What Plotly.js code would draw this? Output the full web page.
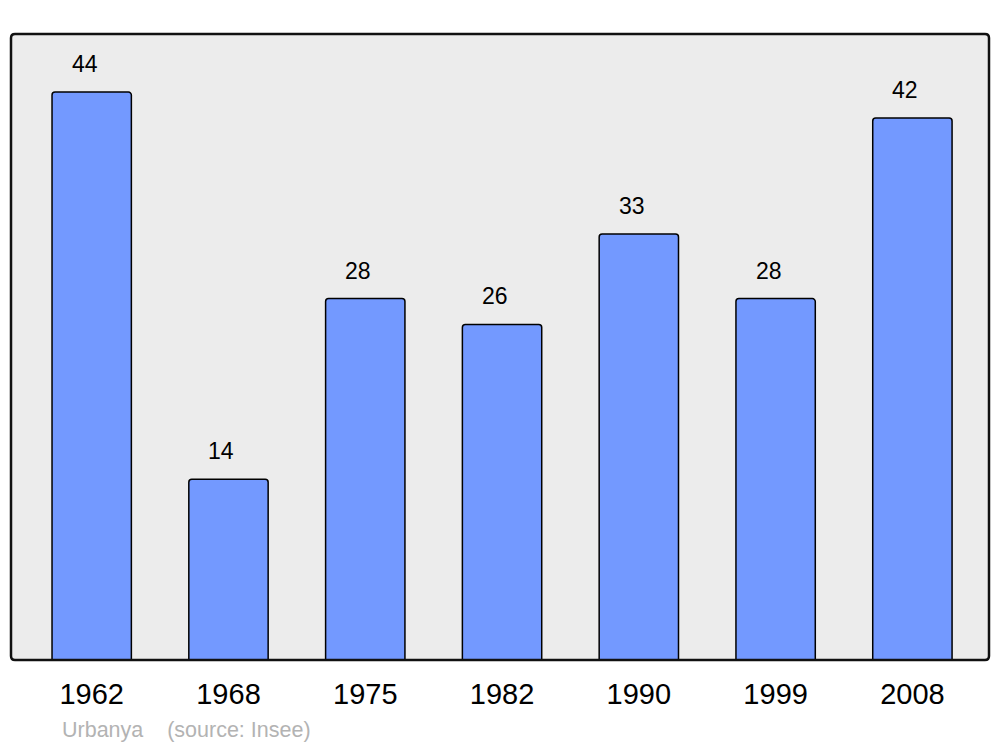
<!DOCTYPE html>
<html>
<head>
<meta charset="utf-8">
<script src="https://cdn.plot.ly/plotly-3.0.1.min.js"></script>
<style>html,body{margin:0;padding:0;background:#fff;}#chart{width:1000px;height:747px;}</style>
</head>
<body>
<div id="chart"></div>
<script>
const years = ["1962", "1968", "1975", "1982", "1990", "1999", "2008"];
const population = [44, 14, 28, 26, 33, 28, 42];
const sourceText = "Urbanya\u00a0\u00a0\u00a0\u00a0(source: Insee)";

const W = 1000, H = 747;
const m = {l: 11, r: 11, t: 34, b: 87};
const pw = W - m.l - m.r, ph = H - m.t - m.b;
const rx = 4 / pw, ry = 4 / ph;
function roundRect() {
  return `M ${rx},0 L ${1 - rx},0 Q 1,0 1,${ry} L 1,${1 - ry} Q 1,1 ${1 - rx},1 L ${rx},1 Q 0,1 0,${1 - ry} L 0,${ry} Q 0,0 ${rx},0 Z`;
}

const trace = {
  type: 'bar',
  x: years,
  y: population,
  width: 0.58,
  marker: {color: '#7399ff', line: {color: '#000', width: 1.5}, cornerradius: 3},
  hoverinfo: 'skip'
};

const labels = years.map((yr, i) => ({
  x: i, y: population[i], xref: 'x', yref: 'y',
  text: String(population[i]), showarrow: false,
  yanchor: 'bottom', xshift: -7, yshift: 13,
  font: {family: 'Liberation Sans, Arial, sans-serif', size: 23, color: '#000'}
}));

labels.push({
  xref: 'paper', yref: 'paper', x: 49 / pw, y: -(730 - m.t - ph) / ph,
  xanchor: 'left', yanchor: 'middle', showarrow: false,
  text: sourceText,
  font: {family: 'Liberation Sans, Arial, sans-serif', size: 21.5, color: '#b3b3b3'}
});

const layout = {
  width: W, height: H,
  margin: m,
  paper_bgcolor: '#ffffff',
  plot_bgcolor: 'rgba(0,0,0,0)',
  showlegend: false,
  font: {family: 'Liberation Sans, Arial, sans-serif', color: '#000'},
  xaxis: {
    type: 'category', range: [-0.59, 6.56], showgrid: false, zeroline: false,
    showline: false, ticks: '', ticklabelstandoff: 14,
    tickfont: {size: 29, color: '#000'}, fixedrange: true
  },
  yaxis: {
    range: [0, 48.5], visible: false, showgrid: false, zeroline: false, fixedrange: true
  },
  shapes: [
    {type: 'path', xref: 'paper', yref: 'paper', path: roundRect(), fillcolor: '#ececec', line: {width: 0}, layer: 'below'},
    {type: 'path', xref: 'paper', yref: 'paper', path: roundRect(), fillcolor: 'rgba(0,0,0,0)', line: {color: '#111', width: 2.5}, layer: 'above'}
  ],
  annotations: labels
};

Plotly.newPlot('chart', [trace], layout, {staticPlot: true, displayModeBar: false});
</script>
</body>
</html>
